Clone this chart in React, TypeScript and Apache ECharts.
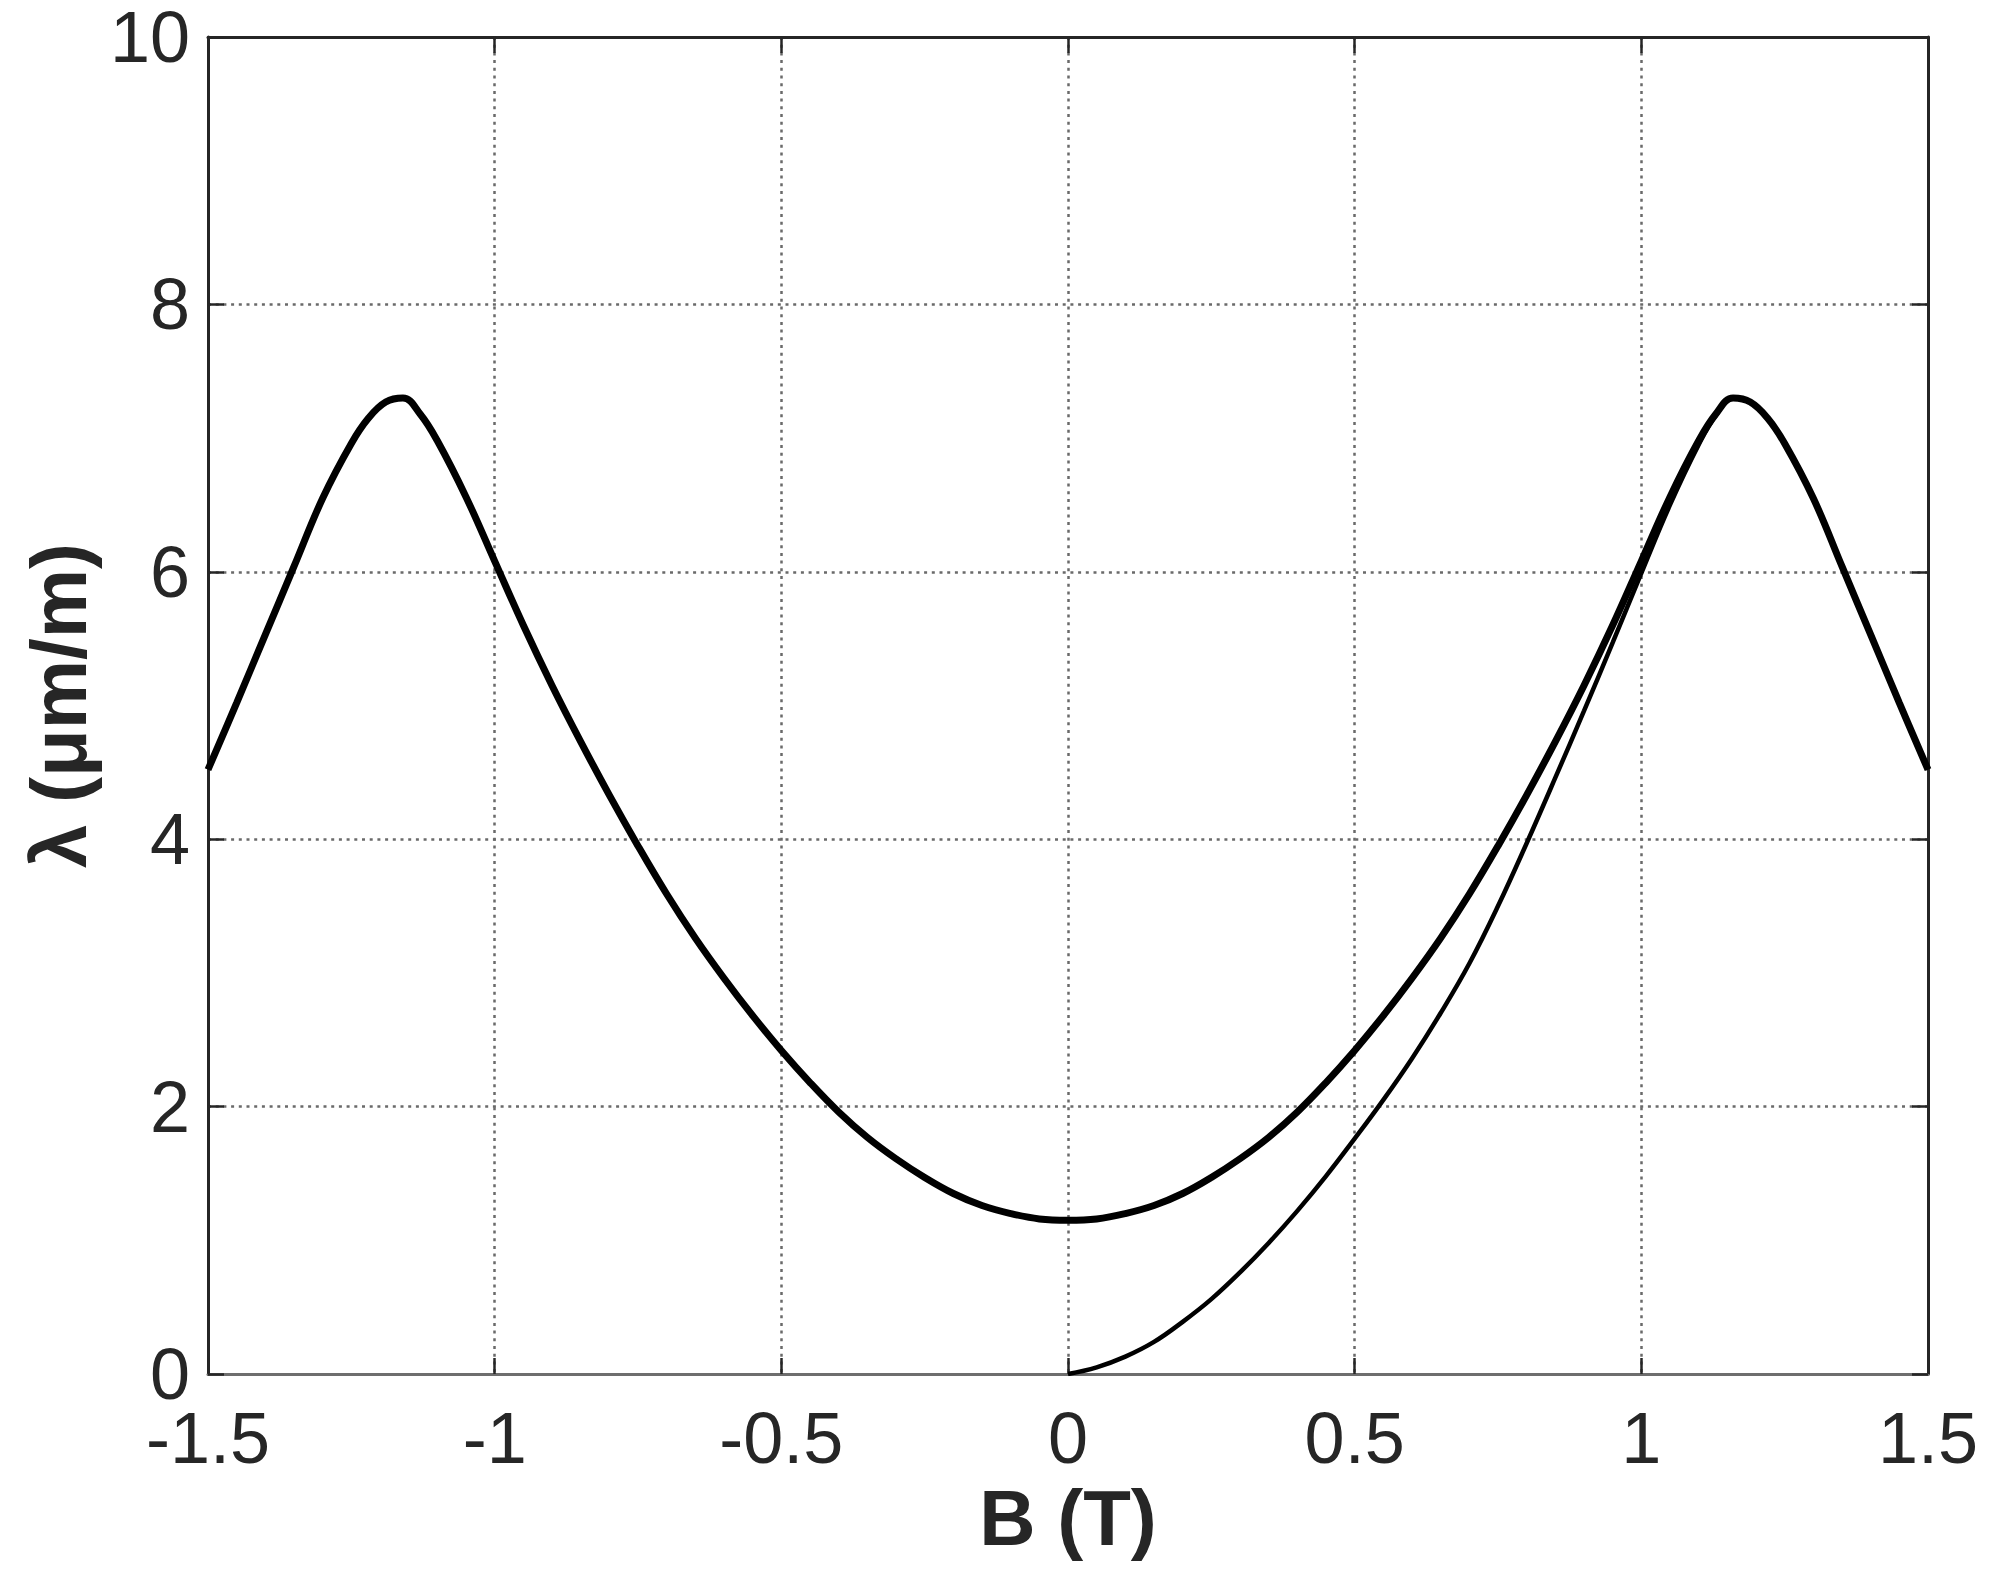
import React, { useEffect, useRef } from "react";
import * as echarts from "echarts";

// Magnetic field B (T) and magnetostriction λ (µm/m)
const bMain = [
  -1.5, -1.45, -1.4, -1.35, -1.3, -1.25, -1.22, -1.19, -1.16, -1.13, -1.1, -1.05, -1.0,
  -0.95, -0.9, -0.85, -0.8, -0.75, -0.7, -0.65, -0.6, -0.55, -0.5, -0.45, -0.4, -0.35,
  -0.3, -0.25, -0.2, -0.15, -0.1, -0.05, 0, 0.05, 0.1, 0.15, 0.2, 0.25, 0.3, 0.35, 0.4,
  0.45, 0.5, 0.55, 0.6, 0.65, 0.7, 0.75, 0.8, 0.85, 0.9, 0.95, 1.0, 1.05, 1.1, 1.13,
  1.16, 1.19, 1.22, 1.25, 1.3, 1.35, 1.4, 1.45, 1.5,
];
const lambdaMain = [
  4.52, 5.02, 5.53, 6.04, 6.55, 6.96, 7.15, 7.27, 7.3, 7.18, 6.98, 6.56, 6.08,
  5.6, 5.15, 4.73, 4.33, 3.95, 3.59, 3.26, 2.96, 2.68, 2.42, 2.18, 1.96, 1.77,
  1.61, 1.47, 1.35, 1.26, 1.2, 1.16, 1.15, 1.16, 1.2, 1.26, 1.35, 1.47, 1.61, 1.77, 1.96,
  2.18, 2.42, 2.68, 2.96, 3.26, 3.59, 3.95, 4.33, 4.73, 5.15, 5.6, 6.08, 6.56, 6.98, 7.18,
  7.3, 7.27, 7.15, 6.96, 6.55, 6.04, 5.53, 5.02, 4.52,
];

const bInitial = [
  0, 0.05, 0.1, 0.15, 0.2, 0.25, 0.3, 0.35, 0.4, 0.45, 0.5, 0.55, 0.6, 0.65, 0.7,
  0.75, 0.8, 0.85, 0.9, 0.95, 1.0, 1.05, 1.1, 1.13, 1.16, 1.19, 1.22, 1.25, 1.3,
  1.35, 1.4, 1.45, 1.5,
];
const lambdaInitial = [
  0, 0.05, 0.13, 0.24, 0.39, 0.56, 0.76, 0.98, 1.22, 1.48, 1.76, 2.05, 2.36, 2.7, 3.07,
  3.5, 3.97, 4.46, 4.96, 5.47, 5.99, 6.5, 6.95, 7.17, 7.3, 7.27, 7.15, 6.96, 6.55,
  6.04, 5.53, 5.02, 4.52,
];

const xTicks = [-1.5, -1, -0.5, 0, 0.5, 1, 1.5];
const yTicks = [0, 2, 4, 6, 8, 10];

const FONT = '"Liberation Sans", Arial, Helvetica, sans-serif';
const DARK = "#262626";

export default function App() {
  const ref = useRef<HTMLDivElement>(null);

  useEffect(() => {
    if (!ref.current) return;
    const chart = echarts.init(ref.current, undefined, { renderer: "svg" });

    const xMin = xTicks[0];
    const xMax = xTicks[xTicks.length - 1];
    const xStep = xTicks[1] - xTicks[0];
    const yMin = yTicks[0];
    const yMax = yTicks[yTicks.length - 1];
    const yStep = yTicks[1] - yTicks[0];

    const tickStyle = {
      show: true,
      inside: true,
      length: 16,
      lineStyle: { color: DARK, width: 2.5 },
    };
    const gridLine = {
      show: true,
      lineStyle: { color: "#6a6a6a", width: 2.5, type: [3, 4.7] as any },
    };

    chart.setOption({
      animation: false,
      backgroundColor: "#ffffff",
      grid: { left: 208, right: 65, top: 37, bottom: 203 },
      xAxis: [
        {
          type: "value",
          min: xMin,
          max: xMax,
          interval: xStep,
          position: "bottom",
          name: "B (T)",
          nameLocation: "middle",
          nameGap: 76,
          nameTextStyle: {
            fontFamily: FONT,
            fontSize: 78,
            fontWeight: "bold",
            color: DARK,
          },
          axisLine: { show: true, onZero: false, lineStyle: { color: "#6e6e6e", width: 3 } },
          axisTick: tickStyle,
          axisLabel: {
            show: true,
            margin: 28,
            fontFamily: FONT,
            fontSize: 72,
            color: DARK,
            formatter: (v: number) => String(v),
          },
          splitLine: { ...gridLine, showMinLine: false, showMaxLine: false },
        },
        {
          type: "value",
          min: xMin,
          max: xMax,
          interval: xStep,
          position: "top",
          axisLine: { show: true, onZero: false, lineStyle: { color: DARK, width: 3 } },
          axisTick: tickStyle,
          axisLabel: { show: false },
          splitLine: { show: false },
        },
      ],
      yAxis: [
        {
          type: "value",
          min: yMin,
          max: yMax,
          interval: yStep,
          position: "left",
          name: "λ (μm/m)",
          nameLocation: "middle",
          nameGap: 110,
          nameTextStyle: {
            fontFamily: FONT,
            fontSize: 78,
            fontWeight: "bold",
            color: DARK,
          },
          axisLine: { show: true, onZero: false, lineStyle: { color: DARK, width: 3 } },
          axisTick: tickStyle,
          axisLabel: {
            show: true,
            margin: 18,
            fontFamily: FONT,
            fontSize: 72,
            color: DARK,
          },
          splitLine: { ...gridLine, showMinLine: true, showMaxLine: false },
        },
        {
          type: "value",
          min: yMin,
          max: yMax,
          interval: yStep,
          position: "right",
          axisLine: { show: true, onZero: false, lineStyle: { color: DARK, width: 3 } },
          axisTick: tickStyle,
          axisLabel: { show: false },
          splitLine: { show: false },
        },
      ],
      series: [
        {
          type: "line",
          xAxisIndex: 0,
          yAxisIndex: 0,
          data: bInitial.map((b, i) => [b, lambdaInitial[i]]),
          showSymbol: false,
          smooth: 0.4,
          lineStyle: { color: "#000000", width: 4.5 },
          z: 3,
        },
        {
          type: "line",
          xAxisIndex: 0,
          yAxisIndex: 0,
          data: bMain.map((b, i) => [b, lambdaMain[i]]),
          showSymbol: false,
          smooth: 0.4,
          lineStyle: { color: "#000000", width: 7 },
          z: 4,
        },
      ],
    });

    return () => chart.dispose();
  }, []);

  return (
    <div
      ref={ref}
      style={{
        position: "fixed",
        left: 0,
        top: 0,
        width: 1993,
        height: 1577,
        background: "#ffffff",
      }}
    />
  );
}
